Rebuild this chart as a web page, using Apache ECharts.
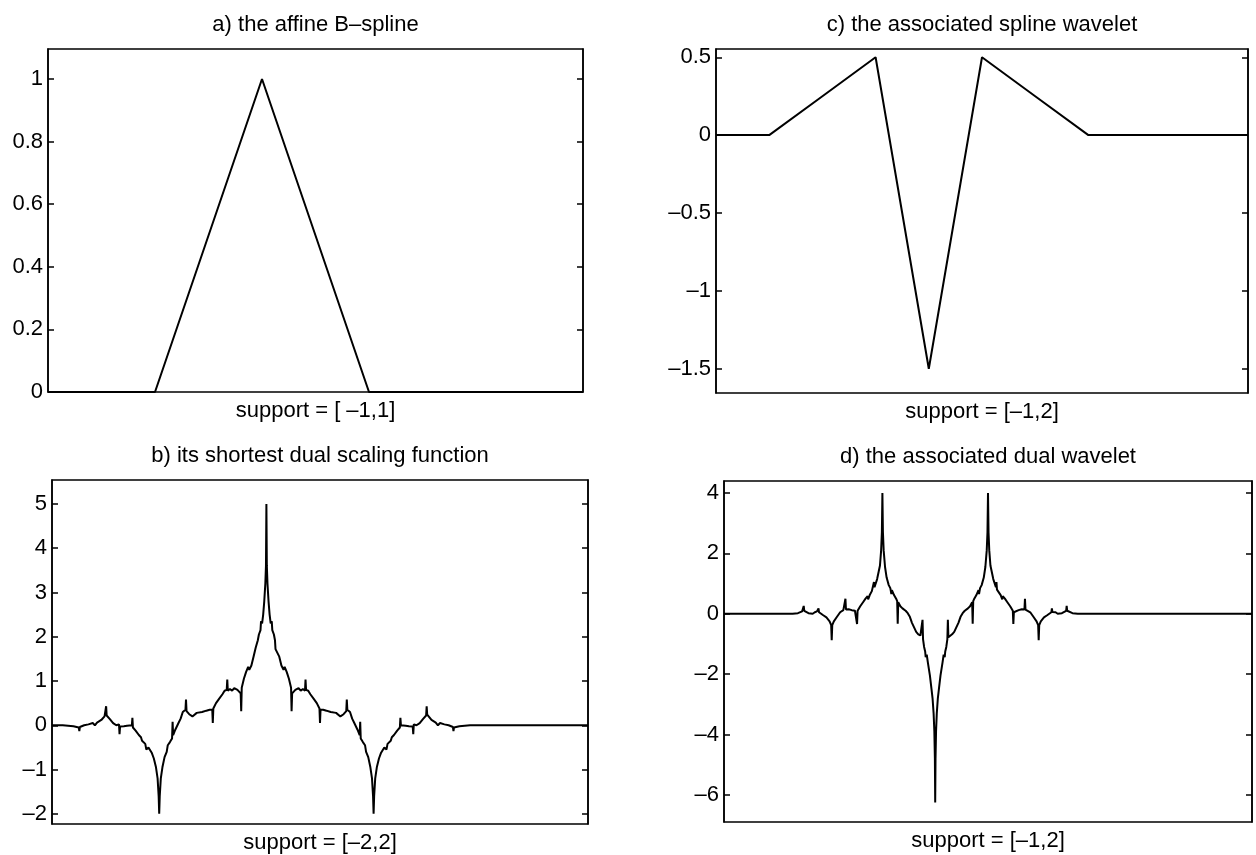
<!DOCTYPE html>
<html>
<head>
<meta charset="utf-8">
<title>affine B-spline, dual scaling function and wavelets</title>
<script src="https://cdn.jsdelivr.net/npm/echarts@6/dist/echarts.min.js"></script>
<style>
  html, body { margin: 0; padding: 0; background: #fff; }
  #chart { width: 1256px; height: 855px; }
</style>
</head>
<body>
<div id="chart"></div>
<script>
// Text
const titleA = 'a) the affine B\u2013spline'
const titleB = 'b) its shortest dual scaling function'
const titleC = 'c) the associated spline wavelet'
const titleD = 'd) the associated dual wavelet'
const supportA = 'support = [ \u20131,1]'
const supportB = 'support = [\u20132,2]'
const supportC = 'support = [\u20131,2]'
const supportD = 'support = [\u20131,2]'

// Y tick values of each panel
const ticksA = [0, 0.2, 0.4, 0.6, 0.8, 1]
const ticksB = [-2, -1, 0, 1, 2, 3, 4, 5]
const ticksC = [-1.5, -1, -0.5, 0, 0.5]
const ticksD = [-6, -4, -2, 0, 2, 4]

// a) hat function
const splineA = [[-2, 0], [-1, 0], [0, 1], [1, 0], [3, 0]]

// c) spline wavelet (knots at half integers)
const splineWaveletC = [[-1.5, 0], [-1, 0], [-0.5, 0.25], [0, 0.5], [0.5, -1.5],
  [1, 0.5], [1.5, 0.25], [2, 0], [3.5, 0]]

// b) dual scaling function
const dualScalingB = [
  [-2, 0], [-1.9, 0], [-1.8, -0.02], [-1.75, -0.05], [-1.745, -0.13], [-1.74, -0.04], [-1.7, 0],
  [-1.66, 0.02], [-1.62, 0.05], [-1.6, 0], [-1.58, 0.06], [-1.54, 0.12], [-1.51, 0.2], [-1.5, 0.24],
  [-1.495, 0.43], [-1.49, 0.22], [-1.46, 0.14], [-1.43, 0.05], [-1.4, 0], [-1.375, 0.02], [-1.37, -0.2],
  [-1.365, -0.03], [-1.33, -0.02], [-1.3, -0.01], [-1.255, 0], [-1.25, 0.17], [-1.245, -0.05],
  [-1.22, -0.12], [-1.19, -0.22], [-1.17, -0.27], [-1.16, -0.35], [-1.13, -0.42], [-1.12, -0.55],
  [-1.1, -0.5], [-1.07, -0.62], [-1.05, -0.75], [-1.03, -0.95], [-1.015, -1.2], [-1.005, -1.6], [-1, -2],
  [-0.995, -1.6], [-0.985, -1.2], [-0.97, -0.95], [-0.95, -0.72], [-0.93, -0.6], [-0.92, -0.45],
  [-0.9, -0.38], [-0.88, -0.3], [-0.875, 0.08], [-0.87, -0.22], [-0.85, -0.1], [-0.82, 0.05], [-0.8, 0.15],
  [-0.78, 0.3], [-0.755, 0.35], [-0.75, 0.58], [-0.745, 0.32], [-0.72, 0.25], [-0.69, 0.2], [-0.65, 0.28],
  [-0.6, 0.3], [-0.56, 0.33], [-0.53, 0.35], [-0.505, 0.35], [-0.5, 0.05], [-0.495, 0.38], [-0.47, 0.5],
  [-0.44, 0.6], [-0.41, 0.7], [-0.39, 0.78], [-0.37, 0.8], [-0.365, 1.03], [-0.36, 0.78], [-0.34, 0.82],
  [-0.32, 0.78], [-0.3, 0.84], [-0.27, 0.8], [-0.24, 0.72], [-0.235, 0.32], [-0.23, 0.85], [-0.21, 1.05],
  [-0.19, 1.2], [-0.17, 1.32], [-0.16, 1.25], [-0.14, 1.35], [-0.12, 1.55], [-0.1, 1.75], [-0.085, 1.72],
  [-0.08, 1.92], [-0.07, 2.05], [-0.055, 2.15], [-0.05, 2.35], [-0.04, 2.3], [-0.03, 2.5], [-0.02, 2.8],
  [-0.01, 3.2], [-0.004, 3.6], [0, 5],
  [0.004, 3.6], [0.01, 3.2], [0.02, 2.8], [0.03, 2.5], [0.04, 2.3], [0.05, 2.35], [0.055, 2.15],
  [0.07, 2.05], [0.08, 1.92], [0.085, 1.72], [0.1, 1.75], [0.12, 1.55], [0.14, 1.35], [0.16, 1.25],
  [0.17, 1.32], [0.19, 1.2], [0.21, 1.05], [0.23, 0.85], [0.235, 0.32], [0.24, 0.72], [0.27, 0.8],
  [0.3, 0.84], [0.32, 0.78], [0.34, 0.82], [0.36, 0.78], [0.365, 1.03], [0.37, 0.8], [0.39, 0.78],
  [0.41, 0.7], [0.44, 0.6], [0.47, 0.5], [0.495, 0.38], [0.5, 0.05], [0.505, 0.35], [0.53, 0.35],
  [0.56, 0.33], [0.6, 0.3], [0.65, 0.28], [0.69, 0.2], [0.72, 0.25], [0.745, 0.32], [0.75, 0.58],
  [0.755, 0.35], [0.78, 0.3], [0.8, 0.15], [0.82, 0.05], [0.85, -0.1], [0.87, -0.22], [0.875, 0.08],
  [0.88, -0.3], [0.9, -0.38], [0.92, -0.45], [0.93, -0.6], [0.95, -0.72], [0.97, -0.95], [0.985, -1.2],
  [0.995, -1.6], [1, -2],
  [1.005, -1.6], [1.015, -1.2], [1.03, -0.95], [1.05, -0.75], [1.07, -0.62], [1.1, -0.5], [1.12, -0.55],
  [1.13, -0.42], [1.16, -0.35], [1.17, -0.27], [1.19, -0.22], [1.22, -0.12], [1.245, -0.05], [1.25, 0.17],
  [1.255, 0], [1.3, -0.01], [1.33, -0.02], [1.365, -0.03], [1.37, -0.2], [1.375, 0.02], [1.4, 0],
  [1.43, 0.05], [1.46, 0.14], [1.49, 0.22], [1.495, 0.43], [1.5, 0.24], [1.51, 0.2], [1.54, 0.12],
  [1.58, 0.06], [1.6, 0], [1.62, 0.05], [1.66, 0.02], [1.7, 0], [1.74, -0.04], [1.745, -0.13],
  [1.75, -0.05], [1.8, -0.02], [1.9, 0], [2, 0], [3, 0]
]

// d) dual wavelet
const dualWaveletD = [
  [-1.5, 0], [-1, 0], [-0.85, 0], [-0.8, 0.02], [-0.76, 0.08], [-0.75, 0.1], [-0.745, 0.26], [-0.74, 0.1],
  [-0.7, 0.02], [-0.66, 0], [-0.64, 0.05], [-0.62, 0.08], [-0.61, 0.06], [-0.605, 0.18], [-0.6, 0.05],
  [-0.56, -0.05], [-0.53, -0.12], [-0.5, -0.25], [-0.485, -0.38], [-0.48, -0.88], [-0.475, -0.38],
  [-0.46, -0.25], [-0.43, -0.1], [-0.4, 0.05], [-0.37, 0.12], [-0.355, 0.14], [-0.35, 0.5], [-0.345, 0.14],
  [-0.32, 0.15], [-0.29, 0.12], [-0.26, 0.1], [-0.245, 0.05], [-0.24, -0.34], [-0.235, 0.1], [-0.21, 0.25],
  [-0.18, 0.4], [-0.16, 0.5], [-0.14, 0.58], [-0.135, 0.48], [-0.12, 0.62], [-0.1, 0.75], [-0.085, 0.8],
  [-0.08, 1.05], [-0.075, 0.88], [-0.05, 1.15], [-0.035, 1.4], [-0.023, 1.6], [-0.012, 2.1], [-0.005, 2.7],
  [0, 4],
  [0.005, 2.7], [0.012, 2.1], [0.025, 1.55], [0.04, 1.2], [0.06, 0.95], [0.075, 0.85], [0.085, 0.65],
  [0.09, 0.78], [0.11, 0.62], [0.13, 0.5], [0.14, 0.42], [0.145, -0.33], [0.15, 0.38], [0.17, 0.25],
  [0.19, 0.18], [0.22, 0.1], [0.24, 0.02], [0.26, -0.1], [0.28, -0.3], [0.3, -0.45], [0.32, -0.6],
  [0.34, -0.68], [0.36, -0.72], [0.375, -0.78], [0.38, -0.2], [0.385, -0.85], [0.395, -1.1], [0.405, -1.25],
  [0.41, -1.44], [0.42, -1.35], [0.43, -1.6], [0.45, -2.05], [0.465, -2.5], [0.475, -2.8], [0.485, -3.3],
  [0.492, -3.9], [0.497, -4.8], [0.5, -6.25],
  [0.503, -4.8], [0.508, -3.9], [0.515, -3.3], [0.525, -2.8], [0.535, -2.5], [0.55, -2.05], [0.57, -1.6],
  [0.58, -1.35], [0.59, -1.44], [0.595, -1.25], [0.605, -1.1], [0.615, -0.85], [0.62, -0.2], [0.625, -0.78],
  [0.64, -0.72], [0.66, -0.68], [0.68, -0.6], [0.7, -0.45], [0.72, -0.3], [0.74, -0.1], [0.76, 0.02],
  [0.78, 0.1], [0.81, 0.18], [0.83, 0.25], [0.85, 0.38], [0.855, -0.33], [0.86, 0.42], [0.87, 0.5],
  [0.89, 0.62], [0.91, 0.78], [0.915, 0.65], [0.925, 0.85], [0.94, 0.95], [0.96, 1.2], [0.975, 1.55],
  [0.988, 2.1], [0.995, 2.7], [1, 4],
  [1.005, 2.7], [1.012, 2.1], [1.023, 1.6], [1.035, 1.4], [1.05, 1.15], [1.075, 0.88], [1.08, 1.05],
  [1.085, 0.8], [1.1, 0.75], [1.12, 0.62], [1.135, 0.48], [1.14, 0.58], [1.16, 0.5], [1.18, 0.4],
  [1.21, 0.25], [1.235, 0.1], [1.24, -0.34], [1.245, 0.05], [1.26, 0.1], [1.29, 0.12], [1.32, 0.15],
  [1.345, 0.14], [1.35, 0.5], [1.355, 0.14], [1.37, 0.12], [1.4, 0.05], [1.43, -0.1], [1.46, -0.25],
  [1.475, -0.38], [1.48, -0.88], [1.485, -0.38], [1.5, -0.25], [1.53, -0.12], [1.56, -0.05], [1.6, 0.05],
  [1.605, 0.18], [1.61, 0.06], [1.62, 0.08], [1.64, 0.05], [1.66, 0], [1.7, 0.02], [1.74, 0.1],
  [1.745, 0.26], [1.75, 0.1], [1.76, 0.08], [1.8, 0.02], [1.85, 0], [2, 0], [2.5, 0], [3.5, 0]
]

const FONT = "'Liberation Sans', Arial, Helvetica, sans-serif"
const FONT_SIZE = 22

// panel boxes in pixels, axis ranges as in the figure
const panels = [
  { title: titleA, support: supportA, data: splineA, ticks: ticksA,
    x: [-2, 3], y: [0, 1.096], box: { left: 48, top: 49, width: 535, height: 343 } },
  { title: titleB, support: supportB, data: dualScalingB, ticks: ticksB,
    x: [-2, 3], y: [-2.23, 5.54], box: { left: 52, top: 480, width: 536, height: 344 } },
  { title: titleC, support: supportC, data: splineWaveletC, ticks: ticksC,
    x: [-1.5, 3.5], y: [-1.656, 0.553], box: { left: 716, top: 49, width: 532, height: 344 } },
  { title: titleD, support: supportD, data: dualWaveletD, ticks: ticksD,
    x: [-1.5, 3.5], y: [-6.9, 4.4], box: { left: 724, top: 481, width: 528, height: 341 } }
]

const fmt = v => String(v).replace('-', '\u2013')

const textStyle = { fontFamily: FONT, fontSize: FONT_SIZE, fontWeight: 'normal', color: '#000' }

// y axis on either side of a box: ticks point inwards, labels only on the left
function sideAxis(p, i, position) {
  return {
    type: 'value', gridIndex: i, position, min: p.y[0], max: p.y[1],
    axisLine: { show: true, onZero: false, lineStyle: { color: '#000', width: 1.5 } },
    axisTick: { show: true, inside: true, length: 6, customValues: p.ticks,
      lineStyle: { color: '#000', width: 1.5 } },
    axisLabel: position === 'left'
      ? { show: true, margin: 5, customValues: p.ticks, formatter: fmt,
          fontFamily: FONT, fontSize: FONT_SIZE, color: '#000' }
      : { show: false },
    splitLine: { show: false }
  }
}

const option = {
  animation: false,
  backgroundColor: '#fff',
  title: panels.flatMap(p => {
    const cx = p.box.left + p.box.width / 2
    return [
      { text: p.title, left: cx, top: p.box.top - 24, padding: 0,
        textAlign: 'center', textVerticalAlign: 'middle', textStyle },
      { text: p.support, left: cx, top: p.box.top + p.box.height + 19, padding: 0,
        textAlign: 'center', textVerticalAlign: 'middle', textStyle }
    ]
  }),
  grid: panels.map(p => ({
    ...p.box, show: true, borderColor: '#000', borderWidth: 1.5, containLabel: false
  })),
  xAxis: panels.map((p, i) => ({
    type: 'value', gridIndex: i, min: p.x[0], max: p.x[1],
    axisLine: { show: false, onZero: false }, axisTick: { show: false },
    axisLabel: { show: false }, splitLine: { show: false }
  })),
  yAxis: panels.flatMap((p, i) => [sideAxis(p, i, 'left'), sideAxis(p, i, 'right')]),
  series: panels.map((p, i) => ({
    type: 'line', xAxisIndex: i, yAxisIndex: 2 * i,
    data: p.data, showSymbol: false, symbol: 'none',
    lineStyle: { color: '#000', width: 2 }, silent: true
  }))
}

const chart = echarts.init(document.getElementById('chart'))
chart.setOption(option)
</script>
</body>
</html>
